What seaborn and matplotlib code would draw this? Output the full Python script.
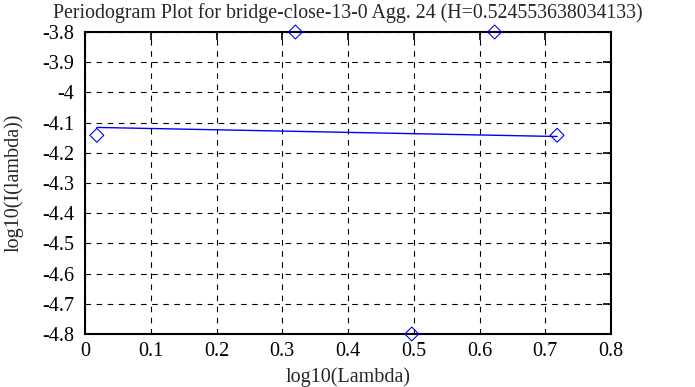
import matplotlib
matplotlib.use("Agg")
import matplotlib.pyplot as plt
import seaborn as sns
import pandas as pd

# data
log_lambda = [0.018, 0.320, 0.497, 0.623, 0.718]
log_I = [-4.142, -3.800, -4.800, -3.800, -4.142]
fit_x = [0.018, 0.718]
fit_y = [-4.116, -4.146]
title = "Periodogram Plot for bridge-close-13-0 Agg. 24 (H=0.524553638034133)"
xticks = [0, 0.1, 0.2, 0.3, 0.4, 0.5, 0.6, 0.7, 0.8]
yticks = [-4.8, -4.7, -4.6, -4.5, -4.4, -4.3, -4.2, -4.1, -4.0, -3.9, -3.8]

sns.set_style("white")
plt.rcParams['font.family'] = ['Liberation Serif', 'DejaVu Serif']

fig = plt.figure(figsize=(6.95, 3.87), dpi=100)
ax = fig.add_axes([85/695, 53/387, 526/695, 302/387])

pts = pd.DataFrame({"x": log_lambda, "y": log_I})
fit = pd.DataFrame({"x": fit_x, "y": fit_y})

sns.lineplot(data=fit, x="x", y="y", ax=ax, color="#0000ff", linewidth=1.0)
sns.scatterplot(data=pts, x="x", y="y", ax=ax, marker="D", s=50,
                facecolors="none", edgecolor="#0000ff", linewidth=0.8,
                clip_on=False, zorder=5)

ax.set_xlim(0, 0.8)
ax.set_ylim(-4.8, -3.8)
ax.set_xticks(xticks)
ax.set_xticklabels([f"{v:g}" for v in xticks])
ax.set_yticks(yticks)
ax.set_yticklabels([f"{v:g}" for v in yticks])
ax.grid(True, color="black", linestyle=(0, (5, 5)), linewidth=0.8)
for s in ax.spines.values():
    s.set_linewidth(1.5)
    s.set_color("black")
ax.tick_params(direction="in", length=6, width=1.2, top=True, right=True,
               labelsize=14.5, colors="black")
ax.tick_params(axis="y", pad=8)
ax.tick_params(axis="x", pad=6)
ax.set_xlabel("log10(Lambda)", fontsize=14.5, labelpad=4)
ax.set_ylabel("log10(I(lambda))", fontsize=14.5, labelpad=13)
ax.set_title(title, fontsize=14.3, pad=10)

fig.savefig("out.png", dpi=100)
